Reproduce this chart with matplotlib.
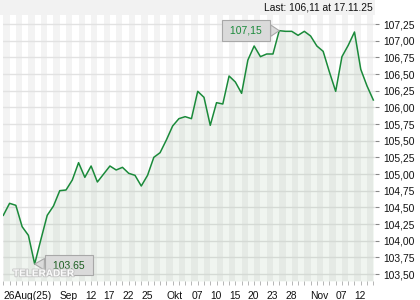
import numpy as np
import pandas as pd
import matplotlib
matplotlib.use("Agg")
import matplotlib.pyplot as plt
import matplotlib.patheffects as pe
from matplotlib.patches import Rectangle

plt.rcParams['font.family'] = ['Liberation Sans', 'DejaVu Sans']

# daily closes, 26 Aug 2025 .. 17 Nov 2025
dates = pd.bdate_range('2025-08-26', '2025-11-17')
closes = [104.38, 104.56, 104.53, 104.21, 104.08, 103.65, 104.02, 104.38, 104.52, 104.75,
          104.76, 104.91, 105.17, 104.95, 105.12, 104.88, 105.00, 105.12, 105.06, 105.10,
          105.01, 104.98, 104.82, 104.98, 105.25, 105.32, 105.51, 105.72, 105.83, 105.86,
          105.83, 106.24, 106.15, 105.73, 106.07, 106.05, 106.47, 106.38, 106.21, 106.71,
          106.92, 106.76, 106.80, 106.80, 107.15, 107.14, 107.14, 107.08, 107.14, 107.07,
          106.92, 106.84, 106.53, 106.24, 106.76, 106.93, 107.13, 106.57, 106.32, 106.11]

tick_dates = ['2025-08-26', '2025-09-08', '2025-09-12', '2025-09-17', '2025-09-22', '2025-09-25',
              '2025-10-01', '2025-10-07', '2025-10-10', '2025-10-15', '2025-10-20', '2025-10-23',
              '2025-10-28', '2025-11-03', '2025-11-07', '2025-11-12']
tick_labels = ['26Aug(25)', 'Sep', '12', '17', '22', '25', 'Okt', '07', '10', '15', '20', '23',
               '28', 'Nov', '07', '12']
y_ticks = [103.50, 103.75, 104.00, 104.25, 104.50, 104.75, 105.00, 105.25,
           105.50, 105.75, 106.00, 106.25, 106.50, 106.75, 107.00, 107.25]

x = np.arange(len(closes))
closes = np.array(closes)

fig = plt.figure(figsize=(4.2, 3.0), dpi=100, facecolor='white')
ax = fig.add_axes([3/420, 19/300, 372/420, 266/300])
fig.patches.append(Rectangle((0, 285/300), 375/420, 15/300, transform=fig.transFigure,
                             facecolor='#f2f2f2', edgecolor='none', zorder=0))

ax.set_xlim(-0.05, len(closes) - 1 + 0.27)
ax.set_ylim(103.395, 107.385)

# day stripes
for i in range(0, len(closes), 2):
    ax.axvspan(i, i + 1, color='#f3f3f3', lw=0, zorder=0)

for v in y_ticks:
    ax.axhline(v, color='#e2e2e2', lw=1, zorder=1)

ax.fill_between(x, closes, 103.395, color='#2e7d32', alpha=0.07, lw=0, zorder=2)
ax.plot(x, closes, color='#1a8a3a', lw=1.1, zorder=3)

# high / low boxes
hi = int(np.argmax(closes))
lo = int(np.argmin(closes))
box = dict(boxstyle='square,pad=0.5', fc='#dadada', ec='#a8a8a8', lw=0.8)
wedge = dict(arrowstyle='wedge,tail_width=1.1,shrink_factor=0.5', fc='#dadada',
             ec='#a8a8a8', lw=0.8, shrinkA=0, shrinkB=0)
ax.annotate(' ' + f"{closes[hi]:.2f}".replace('.', ',') + ' ', xy=(hi, closes[hi]),
            xytext=(-33, 0), textcoords='offset pixels', ha='center', va='center',
            fontsize=7.5, color='#1a8a3a', bbox=box, zorder=5, arrowprops=wedge)
ax.annotate(' ' + f"{closes[lo]:.2f}".replace('.', ',') + ' ', xy=(lo, closes[lo]),
            xytext=(34, -1), textcoords='offset pixels', ha='center', va='center',
            fontsize=7.5, color='#1b5e20', bbox=box, zorder=5, arrowprops=wedge)

# watermark
ax.text(10/372, 0.01, 'TELERADER', transform=ax.transAxes, fontsize=7.2, fontweight='bold',
        color='white', alpha=0.95, ha='left', va='bottom', zorder=6,
        path_effects=[pe.withStroke(linewidth=1.3, foreground='#c4c4c4')])

fig.text(373/420, 292/300, f"Last: {closes[-1]:.2f}".replace('.', ',') + " at 17.11.25",
         ha='right', va='center', fontsize=7.4, color='#111111')

for s in ax.spines.values():
    s.set_visible(False)

ax.yaxis.tick_right()
ax.set_yticks(y_ticks)
ax.set_yticklabels([f"{v:.2f}".replace('.', ',') for v in y_ticks])
ax.tick_params(axis='y', length=3, width=0.8, color='#888888', pad=3, labelsize=7.4,
               labelcolor='#111111')

pos = [dates.get_loc(pd.Timestamp(d)) for d in tick_dates]
ax.set_xticks(pos)
ax.set_xticklabels(tick_labels, ha='left')
ax.set_xticks(x, minor=True)
ax.tick_params(axis='x', which='both', length=3, width=0.6, color='#aaaaaa', pad=4,
               labelsize=7.4, labelcolor='#111111')
ax.grid(False)

fig.savefig('out.png', dpi=100, facecolor='white')
